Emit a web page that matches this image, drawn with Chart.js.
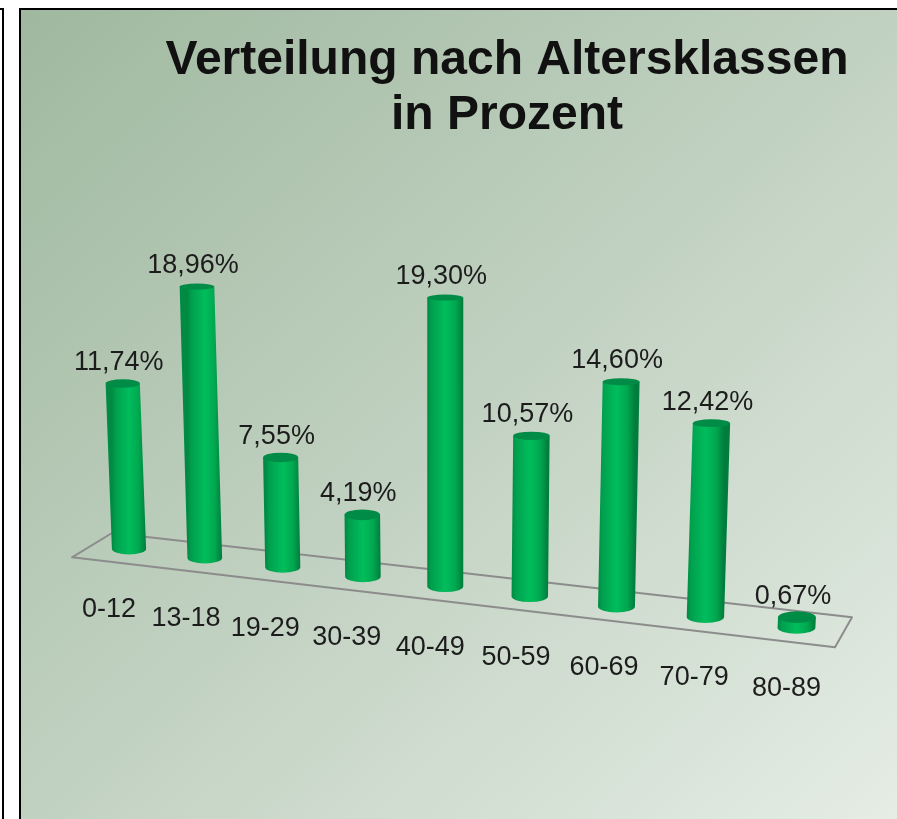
<!DOCTYPE html>
<html><head><meta charset="utf-8">
<style>html,body{margin:0;padding:0;background:#fff}canvas{display:block}</style>
<script src="https://cdn.jsdelivr.net/npm/chart.js@4"></script></head>
<body><canvas id="c" width="897" height="819"></canvas>
<script>
const categories = ['0-12','13-18','19-29','30-39','40-49','50-59','60-69','70-79','80-89'];
const percentValues = [11.74,18.96,7.55,4.19,19.30,10.57,14.60,12.42,0.67];
const titleLines = ['Verteilung nach Altersklassen','in Prozent'];

const FONT = '"Liberation Sans", Arial, sans-serif';

// Perspective projection of the flat bar chart onto the slanted floor
function floorY(sx){ return 549 + 0.118*(sx-129); }
function projectBar(chart, el){
  const s = chart.scales.x, y = chart.scales.y;
  const first = s.getPixelForValue(0), last = s.getPixelForValue(s.max);
  const t = (el.x-first)/(last-first);
  const sx = el.x - 70*t*(1-t);
  const by = floorY(sx);
  const h = (y.getPixelForValue(0)-el.y)*(0.94+0.115*t);
  const lean = (sx-445)*0.00012*h;
  const w = el.width*(0.95+0.1*t);
  return {t, sx, by, h, w, tx:sx+lean, ty:by-h};
}

const scene = {
  id:'scene',
  afterLayout(chart){
    const b = chart.titleBlock, d = 507-(b.left+b.right)/2;
    b.left += d; b.right += d;
  },
  beforeDraw(chart){
    const c = chart.ctx;
    c.save();
    c.fillStyle = '#fff'; c.fillRect(0,0,897,819);
    const g = c.createLinearGradient(20,9,827,883);
    g.addColorStop(0,'#9fb89f'); g.addColorStop(0.5,'#c1d1c1'); g.addColorStop(1,'#e5ede5');
    c.fillStyle = g; c.fillRect(20,9,877,810);
    c.fillStyle = '#000';
    c.fillRect(19,8,878,2); c.fillRect(19,8,2,811);
    c.fillRect(0,8,4,2); c.fillRect(2,8,2,811);
    c.restore();
  },
  beforeDatasetsDraw(chart){
    const c = chart.ctx;
    c.save();
    c.strokeStyle = '#8c8c8c'; c.lineWidth = 2; c.lineJoin='round';
    c.beginPath();
    c.moveTo(112,floorY(112)-14); c.lineTo(72,floorY(72)+15);
    c.lineTo(835,floorY(835)+15); c.lineTo(852,floorY(852)-17); c.closePath();
    c.stroke();
    c.restore();
  },
  beforeDatasetDraw(){ return false; },
  afterDatasetsDraw(chart){
    const c = chart.ctx, els = chart.getDatasetMeta(0).data, data = chart.data.datasets[0].data;
    els.forEach((el,i)=>{
      const p = projectBar(chart, el), rx = p.w/2, ry = p.w*0.16;
      const ryTop = Math.max(3, 6-0.011*p.h);
      c.save();
      const g = c.createLinearGradient(p.sx-rx,0,p.sx+rx,0);
      g.addColorStop(0,'#008a42'); g.addColorStop(0.12,'#00a04e'); g.addColorStop(0.5,'#00bd5c');
      g.addColorStop(0.78,'#00a850'); g.addColorStop(1,'#007d3c');
      c.fillStyle = g;
      c.beginPath();
      c.moveTo(p.tx-rx,p.ty);
      c.lineTo(p.sx-rx,p.by);
      c.ellipse(p.sx,p.by,rx,ry,0,Math.PI,0,true);
      c.lineTo(p.tx+rx,p.ty);
      c.closePath(); c.fill();
      c.fillStyle = '#008c46';
      c.beginPath(); c.ellipse(p.tx,p.ty,rx,ryTop,0,0,Math.PI*2); c.fill();
      c.fillStyle = '#1c1c1c';
      c.font = '27px '+FONT; c.textAlign='center'; c.textBaseline='middle';
      c.fillText(data[i].toFixed(2).replace('.',',')+'%', p.tx-4, p.ty-21);
      c.fillText(chart.scales.x.getLabelForValue(i), p.sx-20+10*p.t, p.by+61);
      c.restore();
    });
  }
};

new Chart(document.getElementById('c'),{
  type:'bar',
  data:{labels:categories,datasets:[{data:percentValues,backgroundColor:'#00b050',barThickness:36}]},
  options:{
    responsive:false,animation:false,
    layout:{padding:{left:87.3,right:58.8,top:0,bottom:229}},
    scales:{
      x:{display:false},
      y:{display:false,min:0,max:20}
    },
    plugins:{
      legend:{display:false},tooltip:{enabled:false},
      title:{display:true,text:titleLines,color:'#111',
        font:{family:FONT,size:48,weight:'bold',lineHeight:1.146},
        padding:{top:33,bottom:147}}
    }
  },
  plugins:[scene]
});
</script></body></html>
